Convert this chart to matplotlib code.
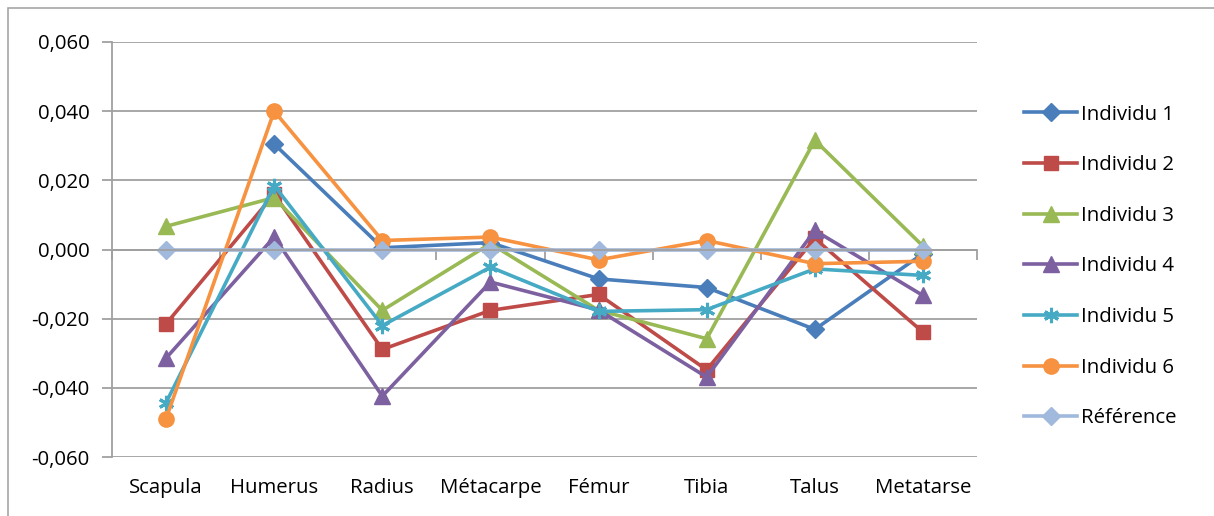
import numpy as np
import matplotlib
matplotlib.use("Agg")
import matplotlib.pyplot as plt
from matplotlib.patches import Rectangle
from matplotlib.ticker import FuncFormatter, MultipleLocator

plt.rcParams['font.family'] = ['Open Sans', 'DejaVu Sans']

# bones along the x axis
bones = ['Scapula', 'Humerus', 'Radius', 'Métacarpe', 'Fémur', 'Tibia', 'Talus', 'Metatarse']

# deviation from reference for each individual (nan = no value)
individu_1 = [np.nan, 0.0305, 0.0005, 0.0020, -0.0085, -0.0110, -0.0231, -0.0012]
individu_2 = [-0.0215, 0.0160, -0.0289, -0.0176, -0.0130, -0.0348, 0.0032, -0.0239]
individu_3 = [0.0067, 0.0150, -0.0176, 0.0017, -0.0176, -0.0258, 0.0316, 0.0010]
individu_4 = [-0.0314, 0.0036, -0.0424, -0.0094, -0.0175, -0.0369, 0.0055, -0.0133]
individu_5 = [-0.0443, 0.0185, -0.0220, -0.0051, -0.0179, -0.0174, -0.0056, -0.0075]
individu_6 = [-0.0489, 0.0400, 0.0026, 0.0036, -0.0030, 0.0026, -0.0041, -0.0034]
reference = [0, 0, 0, 0, 0, 0, 0, 0]

series = [
    ('Individu 1', individu_1, '#4a7ebb', 'D', 9),
    ('Individu 2', individu_2, '#be4b48', 's', 10),
    ('Individu 3', individu_3, '#98b954', '^', 11),
    ('Individu 4', individu_4, '#7d60a0', '^', 11),
    ('Individu 5', individu_5, '#46aac5', (6, 2, 0), 11),
    ('Individu 6', individu_6, '#f69240', 'o', 11),
    ('Référence', reference, '#a0b9dc', 'D', 9),
]

FS = 14.7

fig = plt.figure(figsize=(12.14, 5.16), dpi=100)
ax = fig.add_axes([112 / 1214, 1 - 457 / 516, 865 / 1214, 415 / 516])

# chart area frame
fig.patches.append(Rectangle((7.5 / 1214, -0.1), 1.2, 1 - 8 / 516 + 0.1, transform=fig.transFigure,
                             fill=False, edgecolor='#a6a6a6', linewidth=1.2))

x = np.arange(len(bones))
for name, vals, col, mk, ms in series:
    if isinstance(mk, tuple):
        ax.plot(x, vals, color=col, lw=2.6, marker=mk, ms=ms, mew=2.2, mec=col, label=name,
                solid_joinstyle='round')
    else:
        ax.plot(x, vals, color=col, lw=2.6, marker=mk, ms=ms, mec=col, label=name,
                solid_joinstyle='round')

ax.set_xlim(-0.5, len(bones) - 0.5)
ax.set_ylim(-0.06, 0.06)
ax.yaxis.set_major_locator(MultipleLocator(0.02))
ax.yaxis.set_major_formatter(FuncFormatter(lambda v, p: f'{v:.3f}'.replace('.', ',').replace('-0,000', '0,000')))
ax.grid(axis='y', color='#a0a0a0', lw=1.3)
ax.set_axisbelow(True)

for s in ['top', 'right']:
    ax.spines[s].set_visible(False)
ax.spines['left'].set_color('#a0a0a0')
ax.spines['left'].set_linewidth(1.3)
ax.spines['bottom'].set_position(('data', 0))
ax.spines['bottom'].set_color('#a0a0a0')
ax.spines['bottom'].set_linewidth(1.3)

# category boundaries as tick marks on the zero line
ax.set_xticks(np.arange(len(bones) + 1) - 0.5)
ax.set_xticklabels([])
ax.tick_params(axis='x', length=7, width=1.3, color='#a0a0a0', direction='out')
ax.tick_params(axis='y', length=7, width=1.3, color='#a0a0a0', labelsize=FS, pad=9)

# category labels stay at the bottom of the plot
sec = ax.secondary_xaxis(0.0)
sec.set_xticks(x)
sec.set_xticklabels(bones)
sec.tick_params(length=0, labelsize=FS, pad=15)
sec.spines['bottom'].set_visible(False)

ax.legend(loc='upper left', bbox_to_anchor=(1.045, 0.869), frameon=False, fontsize=FS,
          handlelength=2.6, handletextpad=0.2, labelspacing=1.5, borderaxespad=0)

plt.savefig('out.png', dpi=100)
